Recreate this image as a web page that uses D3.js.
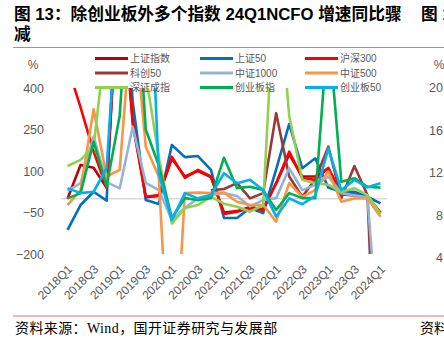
<!DOCTYPE html>
<html>
<head>
<meta charset="utf-8">
<script src="https://cdn.jsdelivr.net/npm/d3@7/dist/d3.min.js"></script>
<style>
  html, body { margin: 0; padding: 0; background: #fff; }
  svg { display: block; }
</style>
</head>
<body>
<svg id="chart" width="444" height="341"></svg>
<script>
// Quarterly NCFO growth (YoY, %) for major A-share indices
const quarters = [
  "2018Q1","2018Q2","2018Q3","2018Q4","2019Q1","2019Q2","2019Q3","2019Q4",
  "2020Q1","2020Q2","2020Q3","2020Q4","2021Q1","2021Q2","2021Q3","2021Q4",
  "2022Q1","2022Q2","2022Q3","2022Q4","2023Q1","2023Q2","2023Q3","2023Q4","2024Q1"
];
const seriesNames = ["上证指数","上证50","沪深300","科创50","中证1000","中证500","深证成指","创业板指","创业板50"];
const seriesColors = ["#C00000","#0070C0","#FF0000","#993A36","#95B3D7","#F79646","#92D050","#00B050","#00B0F0"];

const szzs   = [0, 122, 112, 39, 850, 270, 5, 10, 145, 80, 100, 78, -50, -45, -30, -38, 55, 160, 80, 80, 110, 20, 15, 8, -50];
const sz50   = [-113, -23, 25, -7, 1000, 350, -5, -19, 194, 150, 154, 104, -70, -70, -34, -52, 106, 270, 110, 146, 40, 25, 25, 7, -17];
const hs300  = [480, 330, 170, 40, 900, 284, 7, 13, 152, 75, 104, 80, -55, -47, -34, -41, 57, 170, 75, 68, 111, 15, 12, 5, -55];
const kc50   = [null, null, null, null, null, null, null, null, null, null, null, 30, 35, 56, 1, 20, 309, 80, 7, 70, 188, 2, 118, 13, -1100];
const zz1000 = [28, 56, 224, 60, 37, 260, 57, 31, -77, -34, 2, 13, 20, 10, -28, -5, 2, 110, 31, 50, 80, 20, 12, 5, -600];
const zz500  = [-23, 31, 323, 80, 104, 700, 188, 80, -800, 20, 22, 20, 22, -11, -23, -23, -83, 56, 7, 31, 98, -11, 1, 1, -65];
const szcz   = [118, 140, 188, 600, 900, 900, 450, 150, -90, -34, -23, 7, -18, -29, -47, -23, 870, 300, 68, 56, 50, 25, 38, 13, -55];
const cybz   = [1, 20, 206, 45, 300, 1000, 250, 120, -70, 2, -5, 2, 148, 38, 43, 31, -41, 20, 2, 2, 630, 61, 74, 43, 40];
const cyb50  = [38, 20, 25, 110, 840, 1000, 1200, 90, -77, 20, 1, 13, 92, 56, 68, 31, -65, 1, -20, 10, 182, 31, 68, 41, 56];

const seriesValues = [szzs, sz50, hs300, kc50, zz1000, zz500, szcz, cybz, cyb50];
const yTicks = [-200, -50, 100, 250, 400];
const xTickLabels = quarters.filter((q, i) => i % 2 === 0);
// tick labels of the neighbouring panel's axis, visible at the right edge
const sideTicks = ["20", "16", "12", "8", "4"];

const svg = d3.select("#chart");
const grey = "#595959";
const cjkSans = "'Liberation Sans', 'Noto Sans CJK SC', sans-serif";
const cjkSerif = "'Liberation Serif', 'Noto Sans CJK SC', serif";

// Title block
const titleStyle = sel => sel
  .style("font-family", cjkSans).style("font-size", "16.7px").style("font-weight", "bold")
  .attr("fill", "#000");
svg.append("text").attr("x", 14).attr("y", 20).call(titleStyle)
  .text("图 13：除创业板外多个指数 24Q1NCFO 增速同比骤");
svg.append("text").attr("x", 14).attr("y", 40).call(titleStyle).text("减");
svg.append("text").attr("x", 421).attr("y", 20).call(titleStyle).text("图 1");
svg.append("line")
  .attr("x1", 13).attr("x2", 444).attr("y1", 47.5).attr("y2", 47.5)
  .attr("stroke", "#E57373").attr("stroke-width", 1.2);

// Scales
const x = d3.scaleBand().domain(quarters).range([61, 387]);
const cx = q => x(q) + x.bandwidth() / 2;
const y = d3.scaleLinear().domain([-200, 400]).range([254, 88]);

// Unit label
svg.append("text")
  .attr("x", 33).attr("y", 69).attr("text-anchor", "middle")
  .style("font-family", cjkSans).style("font-size", "12px").attr("fill", grey)
  .text("%");

// Y axis
const yAxis = svg.append("g")
  .attr("transform", "translate(47,0)")
  .call(d3.axisLeft(y).tickValues(yTicks).tickSize(0).tickPadding(3));
yAxis.select(".domain").remove();
yAxis.selectAll("text")
  .style("font-family", cjkSans).style("font-size", "12.5px").attr("fill", grey);

// Zero line
svg.append("line")
  .attr("x1", 61).attr("x2", 387).attr("y1", y(0)).attr("y2", y(0))
  .attr("stroke", "#D9D9D9").attr("stroke-width", 1.5);

// X axis (every other quarter labelled)
const xAxis = svg.append("g")
  .attr("transform", "translate(0,258)")
  .call(d3.axisBottom(d3.scalePoint().domain(quarters).range([cx(quarters[0]), cx(quarters[quarters.length - 1])]))
    .tickValues(xTickLabels).tickSize(0).tickPadding(0));
xAxis.select(".domain").remove();
xAxis.selectAll("text")
  .style("font-family", cjkSans).style("font-size", "12px").attr("fill", grey)
  .attr("text-anchor", "end")
  .attr("dy", "0")
  .attr("transform", "translate(5,12) rotate(-45)");

// Lines, clipped to the plot area
svg.append("clipPath").attr("id", "plot-clip")
  .append("rect").attr("x", 55).attr("y", y(400)).attr("width", 340).attr("height", y(-200) - y(400));

const line = d3.line()
  .defined(d => d != null)
  .x((d, i) => cx(quarters[i]))
  .y(d => y(d));

svg.append("g").attr("clip-path", "url(#plot-clip)")
  .selectAll("path")
  .data(seriesValues)
  .join("path")
  .attr("d", line)
  .attr("fill", "none")
  .attr("stroke", (d, i) => seriesColors[i])
  .attr("stroke-width", 2.6)
  .attr("stroke-linejoin", "round");

// Legend (3 columns)
const legend = svg.append("g");
seriesNames.forEach((name, i) => {
  const col = i % 3, row = Math.floor(i / 3);
  const lx = 95 + col * 105, ly = 58.5 + row * 14.5;
  legend.append("line")
    .attr("x1", lx).attr("x2", lx + 33).attr("y1", ly).attr("y2", ly)
    .attr("stroke", seriesColors[i]).attr("stroke-width", 3);
  legend.append("text")
    .attr("x", lx + 35).attr("y", ly).attr("dy", "0.36em")
    .style("font-family", cjkSans).style("font-size", "10px").attr("fill", grey)
    .text(name);
});

// Neighbouring panel's axis at the right edge
svg.append("text")
  .attr("x", 439).attr("y", 69).attr("text-anchor", "middle")
  .style("font-family", cjkSans).style("font-size", "12px").attr("fill", grey).text("%");
sideTicks.forEach((t, i) => {
  svg.append("text")
    .attr("x", 443).attr("y", 88 + i * 42.5).attr("dy", "0.35em").attr("text-anchor", "end")
    .style("font-family", cjkSans).style("font-size", "12.5px").attr("fill", grey).text(t);
});

// Source footer
svg.append("line")
  .attr("x1", 13).attr("x2", 444).attr("y1", 316).attr("y2", 316)
  .attr("stroke", "#E57373").attr("stroke-width", 1.2);
svg.append("text")
  .attr("x", 15).attr("y", 333)
  .style("font-family", cjkSerif).style("font-size", "14px").style("letter-spacing", "0.4px")
  .attr("fill", "#000")
  .text("资料来源：Wind，国开证券研究与发展部");
svg.append("text")
  .attr("x", 420).attr("y", 333)
  .style("font-family", cjkSerif).style("font-size", "14px")
  .attr("fill", "#000")
  .text("资料");
</script>
</body>
</html>
